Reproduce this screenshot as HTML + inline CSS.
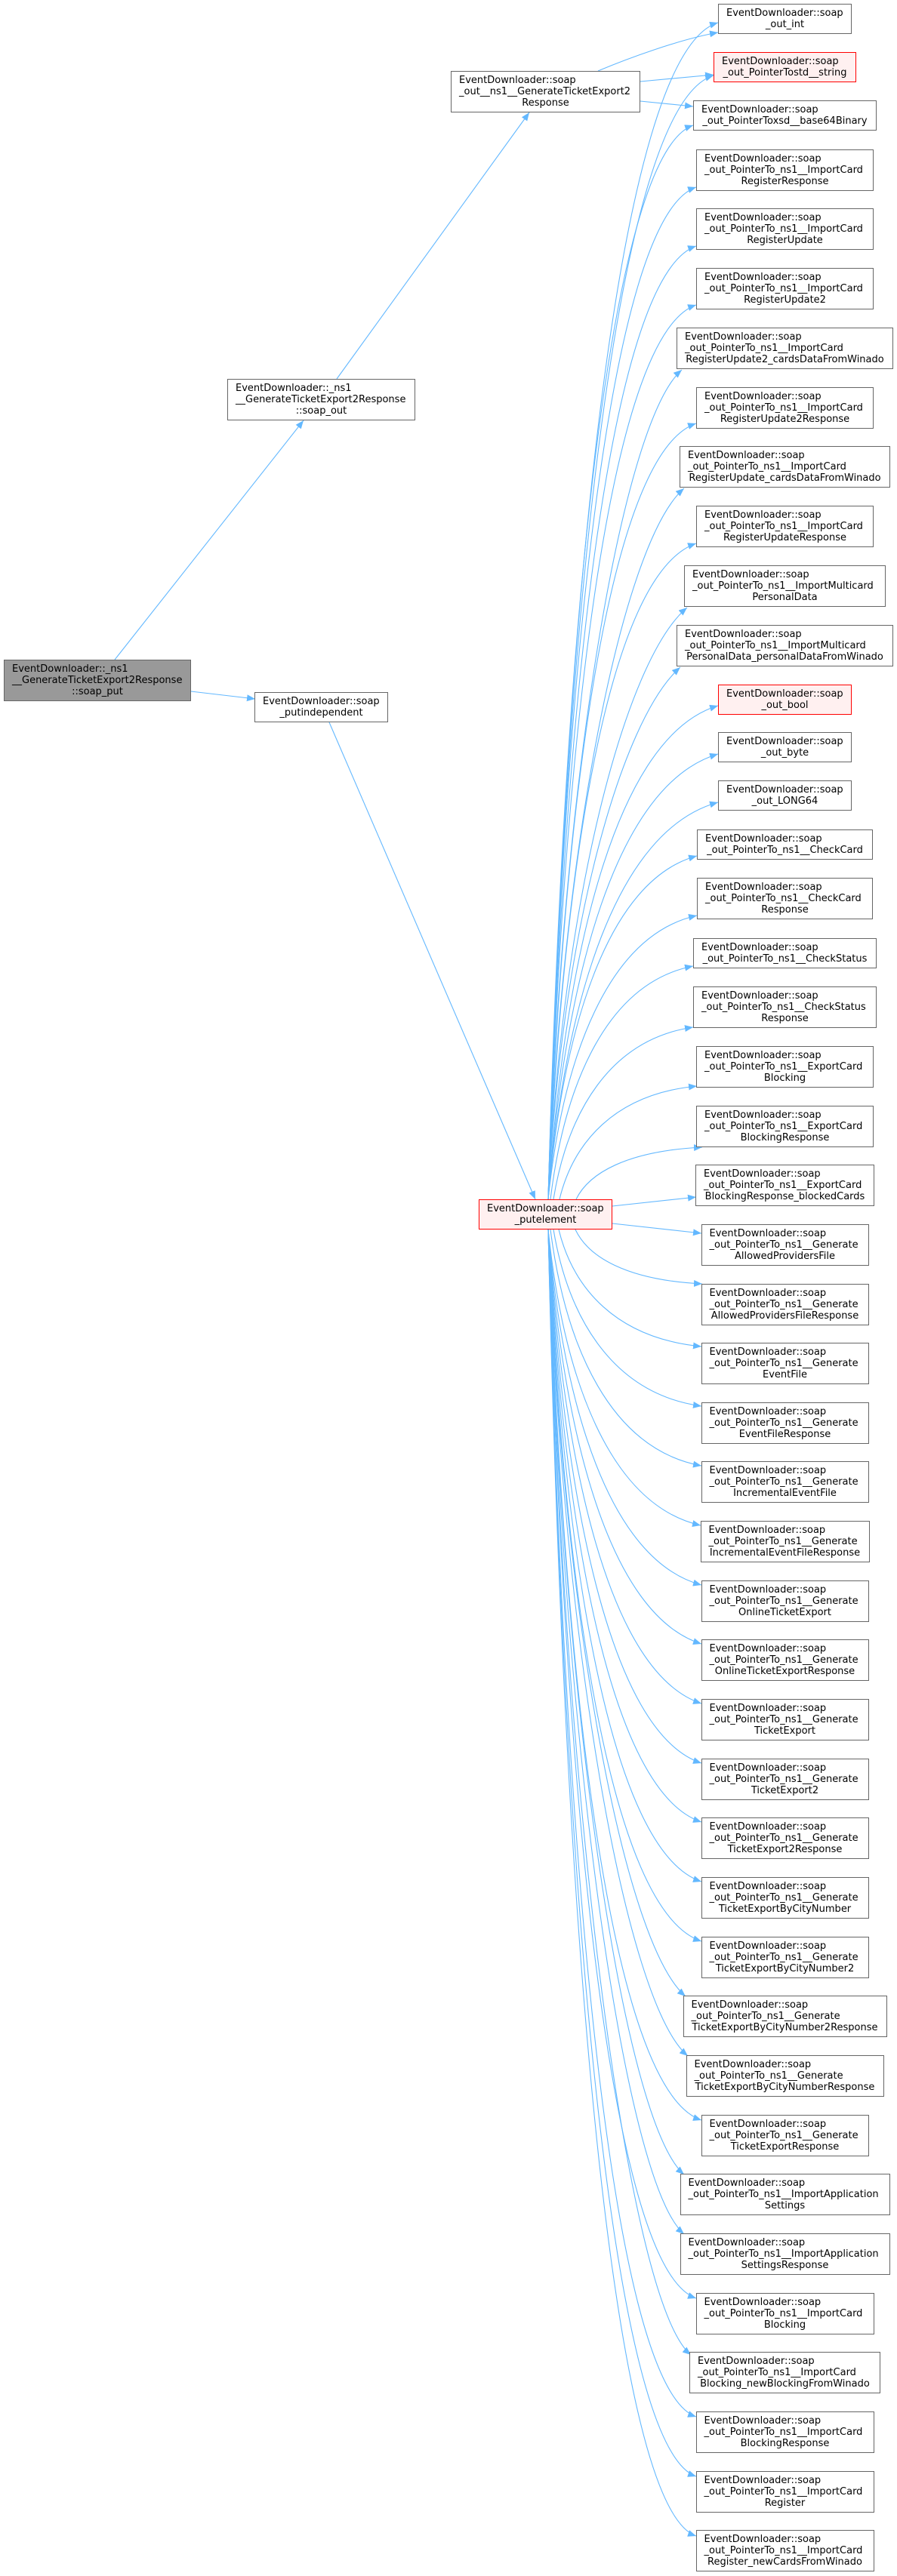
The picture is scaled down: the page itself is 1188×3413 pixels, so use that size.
<!DOCTYPE html>
<html><head><meta charset="utf-8"><style>
html,body{margin:0;padding:0;background:#fff}
body{width:1188px;height:3413px;position:relative;overflow:hidden}
svg{position:absolute;left:0;top:0}
.n{position:absolute;box-sizing:border-box;border:1px solid #666;background:#fff;font:13px/15px "DejaVu Sans","Liberation Sans",sans-serif;color:#000;padding-top:4px;white-space:nowrap;z-index:2}
.l{padding-left:10px}
.c{display:flex;justify-content:center}
.r{border-color:#f00;background:#fff0f0}
.g{background:#999}
.h2{height:40px}.h3{height:55px}
</style></head><body>
<svg width="1188" height="3413" viewBox="0 0 1188 3413" xmlns="http://www.w3.org/2000/svg">
<defs><marker id="a" markerUnits="userSpaceOnUse" markerWidth="12" markerHeight="10" refX="11" refY="4.5" orient="auto"><path d="M0,0 L11,4.5 L0,9 z" fill="#63b8ff"/></marker></defs>
<g fill="none" stroke="#63b8ff" stroke-width="1.1" marker-end="url(#a)">
<path d="M152,874 L402,557"/>
<path d="M253,916 L338,926"/>
<path d="M446,502 L701,149"/>
<path d="M436,957 L709,1589"/>
<path d="M792,94 C830,78 900,52 951,43"/>
<path d="M848,108 L945,99"/>
<path d="M848,134 L918,141"/>
<path d="M726,1589 C748.5,809.5 816,70 951,30"/>
<path d="M726,1589 C747.9,844.5 813.6,140 945,100"/>
<path d="M726,1589 C745.2,877.5 802.8,206 918,166"/>
<path d="M726,1589 C745.6,918.5 804.4,288 922,248"/>
<path d="M726,1589 C745.6,957.5 804.4,366 922,326"/>
<path d="M726,1589 C745.6,996.5 804.4,444 922,404"/>
<path d="M726,1589 C743.7,1039.5 823,560 903,490"/>
<path d="M726,1589 C745.6,1075 804.4,601 922,561"/>
<path d="M726,1589 C744,1118 825,717 906,647"/>
<path d="M726,1589 C745.6,1154.5 804.4,760 922,720"/>
<path d="M726,1589 C744.4,1197 827,875 910,805"/>
<path d="M726,1589 C743.5,1236.5 822,954 901,884"/>
<path d="M726,1589 C748.5,1262 816,975 951,935"/>
<path d="M726,1589 C748.5,1294 816,1039 951,999"/>
<path d="M726,1589 C748.5,1326 816,1100 951,1063"/>
<path d="M726,1589 C745.7,1361.5 804.8,1166 923,1134"/>
<path d="M726,1589 C745.7,1401 804.8,1239 923,1213"/>
<path d="M729,1589 C747.9,1434.5 804.6,1302 918,1280"/>
<path d="M733,1589 C751.5,1475 807,1377 918,1361"/>
<path d="M741,1589 C759.2,1514 813.8,1449.5 923,1439"/>
<path d="M763,1589 C779.7,1554.5 829.8,1525 930,1520"/>
<path d="M811,1598 L922,1586"/>
<path d="M811,1621 L929,1634"/>
<path d="M762,1629 C778.8,1665 829.2,1696 930,1701"/>
<path d="M740,1629 C758.9,1706.5 815.6,1773 929,1784"/>
<path d="M733,1629 C752.6,1746 811.4,1846.6 929,1863"/>
<path d="M729,1629 C749,1785.5 809,1920 929,1942"/>
<path d="M726,1629 C746.2,1825 806.8,1993.6 928,2021"/>
<path d="M726,1629 C746.3,1864.5 807.2,2067 929,2100"/>
<path d="M726,1629 C746.3,1903.5 807.2,2139.6 929,2178"/>
<path d="M726,1629 C746.3,1943 807.2,2217 929,2257"/>
<path d="M726,1629 C746.3,1982.5 807.2,2296 929,2336"/>
<path d="M726,1629 C746.3,2021.5 807.2,2374 929,2414"/>
<path d="M726,1629 C746.3,2061 807.2,2453 929,2493"/>
<path d="M726,1629 C746.3,2100.5 807.2,2532 929,2572"/>
<path d="M726,1629 C744.2,2137 826,2575 908,2645"/>
<path d="M726,1629 C744.5,2176.5 828,2654 911,2724"/>
<path d="M726,1629 C746.3,2219 807.2,2769 929,2809"/>
<path d="M726,1629 C744,2255 825,2811 906,2881"/>
<path d="M726,1629 C744,2294.5 825,2890 906,2960"/>
<path d="M726,1629 C745.6,2337 804.4,3005 922,3045"/>
<path d="M726,1629 C744.9,2374.5 830,3050 915,3120"/>
<path d="M726,1629 C745.6,2415.5 804.4,3162 922,3202"/>
<path d="M726,1629 C745.6,2455 804.4,3241 922,3281"/>
<path d="M726,1629 C745.6,2494.5 804.4,3320 922,3360"/>
</g>
</svg>

<div class="n g h3" style="left:5px;top:874px;width:248px"><div class="l">EventDownloader::_ns1</div><div class="l">__GenerateTicketExport2Response</div><div class="c">::soap_put</div></div>
<div class="n h3" style="left:301px;top:502px;width:249px"><div class="l">EventDownloader::_ns1</div><div class="l">__GenerateTicketExport2Response</div><div class="c">::soap_out</div></div>
<div class="n h2" style="left:337px;top:917px;width:177px"><div class="l">EventDownloader::soap</div><div class="c">_putindependent</div></div>
<div class="n h3" style="left:597px;top:94px;width:251px"><div class="l">EventDownloader::soap</div><div class="l">_out__ns1__GenerateTicketExport2</div><div class="c">Response</div></div>
<div class="n r h2" style="left:634px;top:1589px;width:177px"><div class="l">EventDownloader::soap</div><div class="c">_putelement</div></div>

<div class="n h2" style="left:951px;top:5px;width:177px"><div class="l">EventDownloader::soap</div><div class="c">_out_int</div></div>
<div class="n r h2" style="left:945px;top:69px;width:189px"><div class="l">EventDownloader::soap</div><div class="c">_out_PointerTostd__string</div></div>
<div class="n h2" style="left:918px;top:133px;width:243px"><div class="l">EventDownloader::soap</div><div class="c">_out_PointerToxsd__base64Binary</div></div>
<div class="n h3" style="left:922px;top:198px;width:235px"><div class="l">EventDownloader::soap</div><div class="l">_out_PointerTo_ns1__ImportCard</div><div class="c">RegisterResponse</div></div>
<div class="n h3" style="left:922px;top:276px;width:235px"><div class="l">EventDownloader::soap</div><div class="l">_out_PointerTo_ns1__ImportCard</div><div class="c">RegisterUpdate</div></div>
<div class="n h3" style="left:922px;top:355px;width:235px"><div class="l">EventDownloader::soap</div><div class="l">_out_PointerTo_ns1__ImportCard</div><div class="c">RegisterUpdate2</div></div>
<div class="n h3" style="left:896px;top:434px;width:287px"><div class="l">EventDownloader::soap</div><div class="l">_out_PointerTo_ns1__ImportCard</div><div class="c">RegisterUpdate2_cardsDataFromWinado</div></div>
<div class="n h3" style="left:922px;top:513px;width:235px"><div class="l">EventDownloader::soap</div><div class="l">_out_PointerTo_ns1__ImportCard</div><div class="c">RegisterUpdate2Response</div></div>
<div class="n h3" style="left:900px;top:591px;width:279px"><div class="l">EventDownloader::soap</div><div class="l">_out_PointerTo_ns1__ImportCard</div><div class="c">RegisterUpdate_cardsDataFromWinado</div></div>
<div class="n h3" style="left:922px;top:670px;width:235px"><div class="l">EventDownloader::soap</div><div class="l">_out_PointerTo_ns1__ImportCard</div><div class="c">RegisterUpdateResponse</div></div>
<div class="n h3" style="left:906px;top:749px;width:267px"><div class="l">EventDownloader::soap</div><div class="l">_out_PointerTo_ns1__ImportMulticard</div><div class="c">PersonalData</div></div>
<div class="n h3" style="left:896px;top:828px;width:287px"><div class="l">EventDownloader::soap</div><div class="l">_out_PointerTo_ns1__ImportMulticard</div><div class="c">PersonalData_personalDataFromWinado</div></div>
<div class="n r h2" style="left:951px;top:907px;width:177px"><div class="l">EventDownloader::soap</div><div class="c">_out_bool</div></div>
<div class="n h2" style="left:951px;top:970px;width:177px"><div class="l">EventDownloader::soap</div><div class="c">_out_byte</div></div>
<div class="n h2" style="left:951px;top:1034px;width:177px"><div class="l">EventDownloader::soap</div><div class="c">_out_LONG64</div></div>
<div class="n h2" style="left:923px;top:1099px;width:233px"><div class="l">EventDownloader::soap</div><div class="c">_out_PointerTo_ns1__CheckCard</div></div>
<div class="n h3" style="left:923px;top:1163px;width:233px"><div class="l">EventDownloader::soap</div><div class="l">_out_PointerTo_ns1__CheckCard</div><div class="c">Response</div></div>
<div class="n h2" style="left:918px;top:1243px;width:243px"><div class="l">EventDownloader::soap</div><div class="c">_out_PointerTo_ns1__CheckStatus</div></div>
<div class="n h3" style="left:918px;top:1307px;width:243px"><div class="l">EventDownloader::soap</div><div class="l">_out_PointerTo_ns1__CheckStatus</div><div class="c">Response</div></div>
<div class="n h3" style="left:922px;top:1386px;width:235px"><div class="l">EventDownloader::soap</div><div class="l">_out_PointerTo_ns1__ExportCard</div><div class="c">Blocking</div></div>
<div class="n h3" style="left:922px;top:1465px;width:235px"><div class="l">EventDownloader::soap</div><div class="l">_out_PointerTo_ns1__ExportCard</div><div class="c">BlockingResponse</div></div>
<div class="n h3" style="left:921px;top:1543px;width:237px"><div class="l">EventDownloader::soap</div><div class="l">_out_PointerTo_ns1__ExportCard</div><div class="c">BlockingResponse_blockedCards</div></div>
<div class="n h3" style="left:928.5px;top:1622px;width:222px"><div class="l">EventDownloader::soap</div><div class="l">_out_PointerTo_ns1__Generate</div><div class="c">AllowedProvidersFile</div></div>
<div class="n h3" style="left:928.5px;top:1701px;width:222px"><div class="l">EventDownloader::soap</div><div class="l">_out_PointerTo_ns1__Generate</div><div class="c">AllowedProvidersFileResponse</div></div>
<div class="n h3" style="left:928.5px;top:1779px;width:222px"><div class="l">EventDownloader::soap</div><div class="l">_out_PointerTo_ns1__Generate</div><div class="c">EventFile</div></div>
<div class="n h3" style="left:928.5px;top:1858px;width:222px"><div class="l">EventDownloader::soap</div><div class="l">_out_PointerTo_ns1__Generate</div><div class="c">EventFileResponse</div></div>
<div class="n h3" style="left:928.5px;top:1936px;width:222px"><div class="l">EventDownloader::soap</div><div class="l">_out_PointerTo_ns1__Generate</div><div class="c">IncrementalEventFile</div></div>
<div class="n h3" style="left:927.5px;top:2015px;width:224px"><div class="l">EventDownloader::soap</div><div class="l">_out_PointerTo_ns1__Generate</div><div class="c">IncrementalEventFileResponse</div></div>
<div class="n h3" style="left:928.5px;top:2094px;width:222px"><div class="l">EventDownloader::soap</div><div class="l">_out_PointerTo_ns1__Generate</div><div class="c">OnlineTicketExport</div></div>
<div class="n h3" style="left:928.5px;top:2172px;width:222px"><div class="l">EventDownloader::soap</div><div class="l">_out_PointerTo_ns1__Generate</div><div class="c">OnlineTicketExportResponse</div></div>
<div class="n h3" style="left:928.5px;top:2251px;width:222px"><div class="l">EventDownloader::soap</div><div class="l">_out_PointerTo_ns1__Generate</div><div class="c">TicketExport</div></div>
<div class="n h3" style="left:928.5px;top:2330px;width:222px"><div class="l">EventDownloader::soap</div><div class="l">_out_PointerTo_ns1__Generate</div><div class="c">TicketExport2</div></div>
<div class="n h3" style="left:928.5px;top:2408px;width:222px"><div class="l">EventDownloader::soap</div><div class="l">_out_PointerTo_ns1__Generate</div><div class="c">TicketExport2Response</div></div>
<div class="n h3" style="left:928.5px;top:2487px;width:222px"><div class="l">EventDownloader::soap</div><div class="l">_out_PointerTo_ns1__Generate</div><div class="c">TicketExportByCityNumber</div></div>
<div class="n h3" style="left:928.5px;top:2566px;width:222px"><div class="l">EventDownloader::soap</div><div class="l">_out_PointerTo_ns1__Generate</div><div class="c">TicketExportByCityNumber2</div></div>
<div class="n h3" style="left:904.5px;top:2644px;width:270px"><div class="l">EventDownloader::soap</div><div class="l">_out_PointerTo_ns1__Generate</div><div class="c">TicketExportByCityNumber2Response</div></div>
<div class="n h3" style="left:908.5px;top:2723px;width:262px"><div class="l">EventDownloader::soap</div><div class="l">_out_PointerTo_ns1__Generate</div><div class="c">TicketExportByCityNumberResponse</div></div>
<div class="n h3" style="left:928.5px;top:2802px;width:222px"><div class="l">EventDownloader::soap</div><div class="l">_out_PointerTo_ns1__Generate</div><div class="c">TicketExportResponse</div></div>
<div class="n h3" style="left:900.5px;top:2880px;width:278px"><div class="l">EventDownloader::soap</div><div class="l">_out_PointerTo_ns1__ImportApplication</div><div class="c">Settings</div></div>
<div class="n h3" style="left:900.5px;top:2959px;width:278px"><div class="l">EventDownloader::soap</div><div class="l">_out_PointerTo_ns1__ImportApplication</div><div class="c">SettingsResponse</div></div>
<div class="n h3" style="left:921.5px;top:3038px;width:236px"><div class="l">EventDownloader::soap</div><div class="l">_out_PointerTo_ns1__ImportCard</div><div class="c">Blocking</div></div>
<div class="n h3" style="left:913px;top:3116px;width:253px"><div class="l">EventDownloader::soap</div><div class="l">_out_PointerTo_ns1__ImportCard</div><div class="c">Blocking_newBlockingFromWinado</div></div>
<div class="n h3" style="left:921.5px;top:3195px;width:236px"><div class="l">EventDownloader::soap</div><div class="l">_out_PointerTo_ns1__ImportCard</div><div class="c">BlockingResponse</div></div>
<div class="n h3" style="left:921.5px;top:3274px;width:236px"><div class="l">EventDownloader::soap</div><div class="l">_out_PointerTo_ns1__ImportCard</div><div class="c">Register</div></div>
<div class="n h3" style="left:921.5px;top:3352px;width:236px"><div class="l">EventDownloader::soap</div><div class="l">_out_PointerTo_ns1__ImportCard</div><div class="c">Register_newCardsFromWinado</div></div>
</body></html>
